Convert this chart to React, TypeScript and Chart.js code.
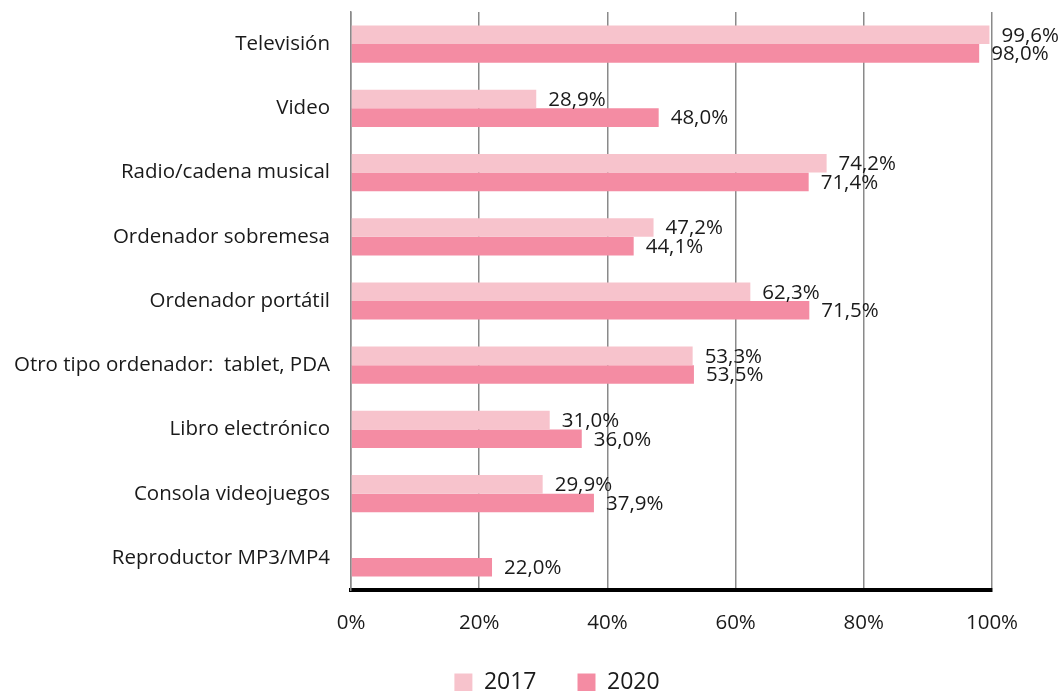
import React, { useEffect, useRef } from "react";
import { Chart, registerables } from "chart.js";

Chart.register(...registerables);

const categories = [
  "Televisión",
  "Video",
  "Radio/cadena musical",
  "Ordenador sobremesa",
  "Ordenador portátil",
  "Otro tipo ordenador:  tablet, PDA",
  "Libro electrónico",
  "Consola videojuegos",
  "Reproductor MP3/MP4",
];
const values2017: (number | null)[] = [99.6, 28.9, 74.2, 47.2, 62.3, 53.3, 31.0, 29.9, null];
const values2020: (number | null)[] = [98.0, 48.0, 71.4, 44.1, 71.5, 53.5, 36.0, 37.9, 22.0];
const seriesLabels = ["2017", "2020"];
const xTicks = [0, 20, 40, 60, 80, 100];

const FONT = "'Open Sans', 'Liberation Sans', sans-serif";

const valueLabels = {
  id: "valueLabels",
  afterDatasetsDraw(chart: any) {
    const ctx = chart.ctx;
    ctx.save();
    ctx.font = `20.5px ${FONT}`;
    ctx.fillStyle = "#1a1a1a";
    ctx.textAlign = "left";
    ctx.textBaseline = "middle";
    chart.data.datasets.forEach((ds: any, di: number) => {
      const meta = chart.getDatasetMeta(di);
      meta.data.forEach((el: any, i: number) => {
        const v = ds.data[i];
        if (v === null || v === undefined) return;
        const txt = v.toFixed(1).replace(".", ",") + "%";
        ctx.fillText(txt, el.x + 12, el.y + 1);
      });
    });
    ctx.restore();
  },
};

const legendShift = {
  id: "legendShift",
  afterLayout(chart: any) {
    const lg = chart.legend;
    if (lg) {
      lg.left += 61;
      lg.right += 61;
    }
  },
};

export default function App() {
  const ref = useRef<HTMLCanvasElement | null>(null);
  useEffect(() => {
    if (!ref.current) return;
    const chart = new Chart(ref.current, {
      type: "bar",
      data: {
        labels: categories,
        datasets: [
          {
            label: seriesLabels[0],
            data: values2017,
            backgroundColor: "#F7C3CC",
            borderWidth: 0,
            categoryPercentage: 0.58,
            barPercentage: 1,
          },
          {
            label: seriesLabels[1],
            data: values2020,
            backgroundColor: "#F48CA3",
            borderWidth: 0,
            categoryPercentage: 0.58,
            barPercentage: 1,
          },
        ],
      },
      options: {
        indexAxis: "y",
        responsive: false,
        animation: false,
        devicePixelRatio: 1,
        layout: { padding: { top: 12, right: 66, left: 0, bottom: 0 } },
        plugins: {
          tooltip: { enabled: false },
          legend: {
            position: "bottom",
            labels: {
              boxWidth: 18,
              boxHeight: 18,
              padding: 41,
              color: "#1a1a1a",
              font: { family: FONT, size: 23 },
            },
          },
        },
        scales: {
          x: {
            min: 0,
            max: 100,
            afterBuildTicks(scale: any) {
              scale.ticks = xTicks.map((v) => ({ value: v }));
            },
            afterFit(scale: any) {
              scale.height = 40;
            },
            ticks: {
              padding: 21,
              color: "#1a1a1a",
              font: { family: FONT, size: 20.5 },
              callback: (v: any) => v + "%",
              maxRotation: 0,
            },
            grid: {
              color: "#8a8a8a",
              lineWidth: 1.5,
              drawTicks: false,
            },
            border: { color: "#000000", width: 4 },
          },
          y: {
            afterFit(scale: any) {
              scale.width = 351;
              scale.paddingTop = 0;
              scale.paddingBottom = 0;
            },
            ticks: {
              padding: 21,
              color: "#1a1a1a",
              font: { family: FONT, size: 20.5 },
              autoSkip: false,
            },
            grid: { display: false, drawTicks: false },
            border: { color: "#8a8a8a", width: 1.5 },
          },
        },
      },
      plugins: [valueLabels, legendShift],
    });
    return () => chart.destroy();
  }, []);
  return (
    <div
      style={{
        position: "absolute",
        left: 0,
        top: 0,
        width: 1058,
        height: 691,
        overflow: "hidden",
        background: "#ffffff",
      }}
    >
      <canvas ref={ref} width={1058} height={704} style={{ display: "block" }} />
    </div>
  );
}
